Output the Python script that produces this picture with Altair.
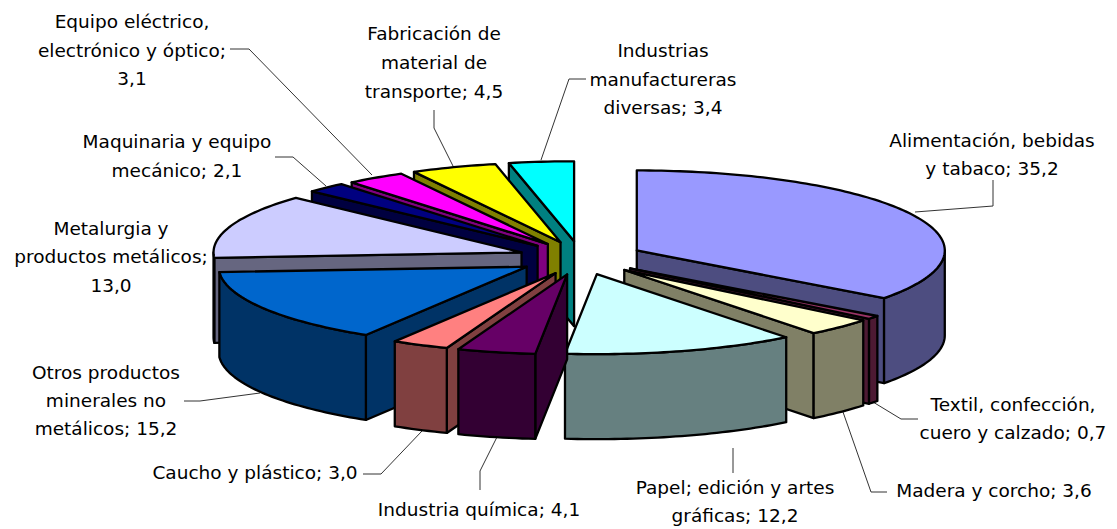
import math
import altair as alt
import pandas as pd

categories = ["Alimentación, bebidas y tabaco", "Textil, confección, cuero y calzado", "Madera y corcho",
              "Papel; edición y artes gráficas", "Industria química", "Caucho y plástico",
              "Otros productos minerales no metálicos", "Metalurgia y productos metálicos",
              "Maquinaria y equipo mecánico", "Equipo eléctrico, electrónico y óptico",
              "Fabricación de material de transporte", "Industrias manufactureras diversas"]
values = [35.2, 0.7, 3.6, 12.2, 4.1, 3.0, 15.2, 13.0, 2.1, 3.1, 4.5, 3.4]
top_colors = ["#9999FF", "#993366", "#FFFFCC", "#CCFFFF", "#660066", "#FF8080",
              "#0066CC", "#CCCCFF", "#000080", "#FF00FF", "#FFFF00", "#00FFFF"]
side_colors = ["#4D4D80", "#4D1A33", "#808066", "#668080", "#330033", "#804040",
               "#003366", "#666680", "#000040", "#800080", "#808000", "#008080"]
nudge_x = [0, 0, 0, 0, 3, 5, 3, 3.5, 3, 5, 4, 2]

# label lines: text, centre x, baseline-middle y (page pixels)
label_lines = [
    ("Alimentación, bebidas", 992, 141), ("y tabaco; 35,2", 992, 169),
    ("Textil, confección,", 1013, 405), ("cuero y calzado; 0,7", 1013, 433),
    ("Madera y corcho; 3,6", 994, 491),
    ("Papel; edición y artes", 735, 488), ("gráficas; 12,2", 735, 516),
    ("Industria química; 4,1", 479, 510),
    ("Caucho y plástico; 3,0", 255, 473),
    ("Otros productos", 106, 373), ("minerales no", 106, 401), ("metálicos; 15,2", 106, 429),
    ("Metalurgia y", 111, 229), ("productos metálicos;", 111, 257), ("13,0", 111, 286),
    ("Maquinaria y equipo", 177, 142), ("mecánico; 2,1", 177, 171),
    ("Equipo eléctrico,", 132, 22), ("electrónico y óptico;", 132, 51), ("3,1", 132, 79),
    ("Fabricación de", 434, 34), ("material de", 434, 63), ("transporte; 4,5", 434, 92),
    ("Industrias", 663, 51), ("manufactureras", 663, 80), ("diversas; 3,4", 663, 108),
]
leaders = [
    [(993, 180), (993, 206), (915, 212)],
    [(918, 419), (901, 419), (873, 402)],
    [(887, 492), (871, 492), (843, 412)],
    [(733, 473), (733, 448)],
    [(480, 490), (480, 471), (497, 437)],
    [(363, 474), (381, 474), (422, 431)],
    [(184, 401), (200, 401), (260, 393)],
    [(275, 157), (293, 157), (326, 186)],
    [(230, 49), (249, 49), (372, 175)],
    [(434, 110), (434, 128), (453, 166)],
    [(586, 79), (569, 79), (541, 160)],
]

CX, CY, RX, RY, DEPTH, EXPLODE = 579 - 8, 258 - 8, 308, 80, 85, 0.21
OFF = 8
W, H = 1101, 519


def pt(cx, cy, a, dz=0):
    return [cx + RX * math.sin(a), cy - RY * math.cos(a) + dz]


def arc(cx, cy, a0, a1, dz=0):
    n = max(2, int(abs(a1 - a0) / 0.02))
    return [pt(cx, cy, a0 + (a1 - a0) * i / n, dz) for i in range(n + 1)]


def poly(coords, fill):
    return {"type": "Feature", "properties": {"fill": fill},
            "geometry": {"type": "Polygon", "coordinates": [coords + [coords[0]]]}}


total = sum(values)
slices = []
acc = 0.0
for v, top, side, nx in zip(values, top_colors, side_colors, nudge_x):
    a0 = acc / total * 2 * math.pi
    acc += v
    a1 = acc / total * 2 * math.pi
    mid = (a0 + a1) / 2
    cx = CX + nx + EXPLODE * RX * math.sin(mid)
    cy = CY - EXPLODE * RY * math.cos(mid)
    fs = []
    apex, apex_b = [cx, cy], [cx, cy + DEPTH]
    if math.sin(a0) < 0:
        fs.append(poly([apex, pt(cx, cy, a0), pt(cx, cy, a0, DEPTH), apex_b], side))
    if math.sin(a1) > 0:
        fs.append(poly([apex, pt(cx, cy, a1), pt(cx, cy, a1, DEPTH), apex_b], side))
    f0, f1 = max(a0, math.pi / 2), min(a1, 3 * math.pi / 2)
    if f1 > f0:
        fs.append(poly(arc(cx, cy, f0, f1) + arc(cx, cy, f1, f0, DEPTH), side))
    fs.append(poly([apex] + arc(cx, cy, a0, a1), top))
    slices.append((cy, fs))

features = [f for _, fs in sorted(slices, key=lambda s: s[0]) for f in fs]
leader_features = [{"type": "Feature", "properties": {},
                    "geometry": {"type": "LineString",
                                 "coordinates": [[x - OFF, y - OFF] for x, y in l]}} for l in leaders]

projection = alt.Projection(type="identity", scale=1, translate=[0, 0])

pie = alt.Chart(alt.Data(values=features)).mark_geoshape(
    stroke="black", strokeWidth=2.3, strokeJoin="round"
).encode(fill=alt.Fill("properties.fill:N", scale=None)).project(**projection.to_dict())

lines = alt.Chart(alt.Data(values=leader_features)).mark_geoshape(
    filled=False, stroke="#333333", strokeWidth=1
).project(**projection.to_dict())

df = pd.DataFrame(label_lines, columns=["t", "x", "y"])
df["x"] -= OFF
df["y"] -= OFF
text = alt.Chart(df).mark_text(font="DejaVu Sans", fontSize=18.5, color="black", align="center", baseline="middle").encode(
    text="t:N",
    x=alt.X("x:Q", scale=alt.Scale(domain=[0, W], range=[0, W]), axis=None),
    y=alt.Y("y:Q", scale=alt.Scale(domain=[0, H], range=[0, H]), axis=None),
)

chart = alt.layer(lines, pie, text).properties(
    width=W, height=H, padding=0, autosize=alt.AutoSizeParams(type="none")
).configure_view(stroke=None)
chart.save("out.html", embed_options={"renderer": "svg", "actions": False})
